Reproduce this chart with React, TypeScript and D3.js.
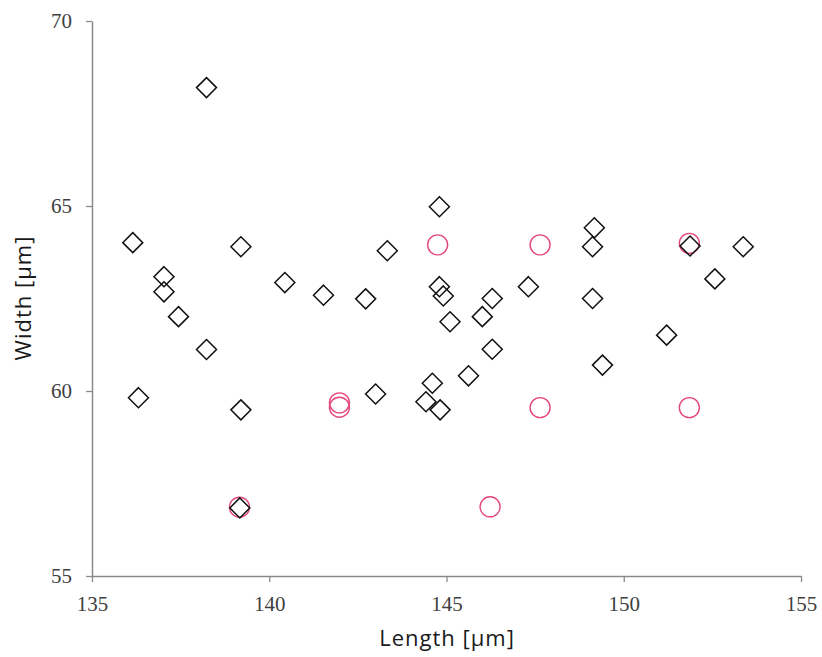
import { useEffect, useRef } from "react"
import * as d3 from "d3"

// diamonds (black) - length, width
const diamondLength = [136.15, 139.2, 137.03, 137.03, 137.44, 138.23, 136.31, 139.2, 140.44, 141.53, 142.72, 143.33, 143.0, 144.8, 138.23, 139.17,
  144.8, 144.91, 145.1, 146.29, 146.01, 146.29, 147.31, 145.62, 144.6, 144.42, 144.82, 149.17, 149.12, 149.12, 149.4, 151.87, 152.57, 153.37, 151.21]
const diamondWidth = [64.01, 63.9, 63.09, 62.68, 62.01, 61.12, 59.82, 59.49, 62.93, 62.59, 62.49, 63.79, 59.92, 64.98, 68.2, 56.84,
  62.82, 62.57, 61.87, 62.5, 62.01, 61.13, 62.82, 60.41, 60.21, 59.71, 59.49, 64.41, 63.9, 62.5, 60.7, 63.92, 63.03, 63.9, 61.51]

// circles (pink)
const circleLength = [144.75, 147.64, 151.85, 147.64, 151.85, 146.23, 141.98, 141.98, 139.16]
const circleWidth = [63.95, 63.95, 63.99, 59.55, 59.55, 56.87, 59.68, 59.56, 56.86]

const xTicks = [135, 140, 145, 150, 155]
const yTicks = [55, 60, 65, 70]

const App = () => {
  const ref = useRef<SVGSVGElement>(null)

  useEffect(() => {
    const svg = d3.select(ref.current)
    svg.selectAll("*").remove()

    const x = d3.scaleLinear().domain([135, 155]).range([92, 801])
    const y = d3.scaleLinear().domain([55, 70]).range([576, 21])
    const axisColor = "#8a8a8a"

    const xAxis = svg.append("g")
      .attr("transform", "translate(0,576)")
      .call(d3.axisBottom(x).tickValues(xTicks).tickSize(6).tickSizeOuter(0).tickPadding(14))
    const yAxis = svg.append("g")
      .attr("transform", "translate(92,0)")
      .call(d3.axisLeft(y).tickValues(yTicks).tickSize(6).tickSizeOuter(0).tickPadding(14))

    for (const g of [xAxis, yAxis]) {
      g.select(".domain").attr("stroke", axisColor).attr("stroke-width", 1.5)
      g.selectAll(".tick line").attr("stroke", axisColor).attr("stroke-width", 1.3)
      g.selectAll(".tick text")
        .attr("fill", "#404040")
        .style("font-family", "'Liberation Serif', 'DejaVu Serif', serif")
        .style("font-size", "21px")
    }

    const diamonds = diamondLength.map((l, i) => ({ l, w: diamondWidth[i] }))
    const circles = circleLength.map((l, i) => ({ l, w: circleWidth[i] }))
    const r = 10

    svg.append("g").selectAll("circle")
      .data(circles)
      .enter()
      .append("circle")
      .attr("cx", d => x(d.l))
      .attr("cy", d => y(d.w))
      .attr("r", r)
      .attr("fill", "none")
      .attr("stroke", "#e5467a")
      .attr("stroke-width", 1.4)

    svg.append("g").selectAll("path")
      .data(diamonds)
      .enter()
      .append("path")
      .attr("d", d => {
        const cx = x(d.l), cy = y(d.w)
        return `M${cx},${cy - r}L${cx + r},${cy}L${cx},${cy + r}L${cx - r},${cy}Z`
      })
      .attr("fill", "none")
      .attr("stroke", "#111")
      .attr("stroke-width", 1.5)

    svg.append("text")
      .attr("x", 447)
      .attr("y", 646)
      .attr("text-anchor", "middle")
      .attr("fill", "#1a1a1a")
      .style("font-family", "'Open Sans', sans-serif")
      .style("font-size", "22px")
      .style("letter-spacing", "1px")
      .text("Length [µm]")

    svg.append("text")
      .attr("transform", "translate(31,298) rotate(-90)")
      .attr("text-anchor", "middle")
      .attr("fill", "#1a1a1a")
      .style("font-family", "'Open Sans', sans-serif")
      .style("font-size", "22px")
      .style("letter-spacing", "1px")
      .text("Width [µm]")
  }, [])

  return <svg ref={ref} width={822} height={657} style={{ position: "absolute", left: 0, top: 0, background: "#fff" }} />
}

export default App
